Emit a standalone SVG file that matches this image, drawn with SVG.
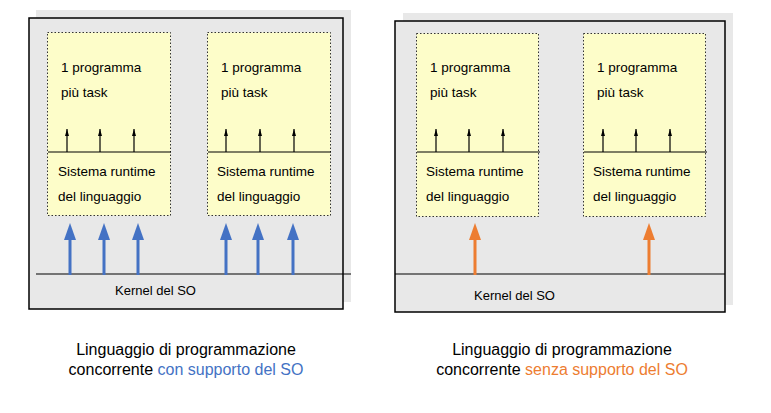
<svg xmlns="http://www.w3.org/2000/svg" width="771" height="413" viewBox="0 0 771 413">
<style>
.bg{fill:#e8e8e8}
.outer{fill:none;stroke:#000;stroke-width:1.5}
.box{fill:#fdfdc9;stroke:#333;stroke-width:1;stroke-dasharray:1.5 2}
.ln{stroke:#000;stroke-width:1.2}
.t{font-family:"Liberation Sans",Arial,sans-serif;font-size:13.5px;fill:#000}
.k{font-family:"Liberation Sans",Arial,sans-serif;font-size:13px;fill:#000}
.c{font-family:"Liberation Sans",Arial,sans-serif;font-size:16px;fill:#000;text-anchor:middle}
.blue{stroke:#4472c4;stroke-width:3}
.orange{stroke:#ed7d31;stroke-width:3}
.small{stroke:#000;stroke-width:1.2}
</style>
<defs>
<marker id="hs" viewBox="0 0 7 4" refX="7" refY="2" markerWidth="7" markerHeight="4" orient="auto" markerUnits="userSpaceOnUse"><path d="M0,0 L7,2 L0,4 Z" fill="#000"/></marker>
</defs>
<rect x="0" y="0" width="771" height="413" fill="#fff"/>
<g id="panel-left">
<rect class="bg" x="36" y="10" width="315" height="292"/>
<rect class="bg" x="29" y="18" width="314" height="291"/>
<rect class="outer" x="29" y="18" width="314" height="291"/>
<line class="ln" x1="36" y1="274" x2="351" y2="274"/>
<text class="k" x="115" y="295">Kernel del SO</text>
</g>
<g id="box-l1">
<rect class="box" x="47.5" y="32.5" width="123" height="183"/>
<line class="ln" x1="48" y1="152" x2="171" y2="152"/>
<text class="t" x="61" y="72">1 programma</text>
<text class="t" x="61" y="97">più task</text>
<text class="t" x="58" y="176">Sistema runtime</text>
<text class="t" x="58" y="201">del linguaggio</text>
</g>
<g id="box-l2">
<rect class="box" x="207.5" y="32.5" width="123" height="183"/>
<line class="ln" x1="208" y1="152" x2="331" y2="152"/>
<text class="t" x="221" y="72">1 programma</text>
<text class="t" x="221" y="97">più task</text>
<text class="t" x="217" y="176">Sistema runtime</text>
<text class="t" x="217" y="201">del linguaggio</text>
</g>
<g id="panel-right">
<rect class="bg" x="403" y="13" width="330" height="292"/>
<rect class="bg" x="395" y="21" width="330" height="291"/>
<rect class="outer" x="395" y="21" width="330" height="291"/>
<line class="ln" x1="395" y1="274" x2="725" y2="274"/>
<text class="k" x="474" y="300">Kernel del SO</text>
</g>
<g id="box-r1">
<rect class="box" x="416.5" y="33.5" width="122" height="183"/>
<line class="ln" x1="417" y1="152" x2="540" y2="152"/>
<text class="t" x="430" y="72">1 programma</text>
<text class="t" x="430" y="97">più task</text>
<text class="t" x="426" y="176">Sistema runtime</text>
<text class="t" x="426" y="201">del linguaggio</text>
</g>
<g id="box-r2">
<rect class="box" x="583.5" y="33.5" width="122" height="183"/>
<line class="ln" x1="584" y1="152" x2="707" y2="152"/>
<text class="t" x="597" y="72">1 programma</text>
<text class="t" x="597" y="97">più task</text>
<text class="t" x="593" y="176">Sistema runtime</text>
<text class="t" x="593" y="201">del linguaggio</text>
</g>
<g id="connectors">
<g class="small">
<line x1="67" y1="152" x2="67" y2="129" marker-end="url(#hs)"/>
<line x1="100" y1="152" x2="100" y2="129" marker-end="url(#hs)"/>
<line x1="134" y1="152" x2="134" y2="129" marker-end="url(#hs)"/>
<line x1="226" y1="152" x2="226" y2="129" marker-end="url(#hs)"/>
<line x1="260" y1="152" x2="260" y2="129" marker-end="url(#hs)"/>
<line x1="294" y1="152" x2="294" y2="129" marker-end="url(#hs)"/>
<line x1="436" y1="152" x2="436" y2="129" marker-end="url(#hs)"/>
<line x1="469" y1="152" x2="469" y2="129" marker-end="url(#hs)"/>
<line x1="503" y1="152" x2="503" y2="129" marker-end="url(#hs)"/>
<line x1="603" y1="152" x2="603" y2="129" marker-end="url(#hs)"/>
<line x1="636" y1="152" x2="636" y2="129" marker-end="url(#hs)"/>
<line x1="670" y1="152" x2="670" y2="129" marker-end="url(#hs)"/>
</g>
<g fill="#4472c4">
<line class="blue" x1="70" y1="275" x2="70" y2="236"/><path d="M64,240 L70,223 L76,240 Z"/>
<line class="blue" x1="104" y1="275" x2="104" y2="236"/><path d="M98,240 L104,223 L110,240 Z"/>
<line class="blue" x1="138" y1="275" x2="138" y2="236"/><path d="M132,240 L138,223 L144,240 Z"/>
<line class="blue" x1="226" y1="275" x2="226" y2="236"/><path d="M220,240 L226,223 L232,240 Z"/>
<line class="blue" x1="258" y1="275" x2="258" y2="236"/><path d="M252,240 L258,223 L264,240 Z"/>
<line class="blue" x1="293" y1="275" x2="293" y2="236"/><path d="M287,240 L293,223 L299,240 Z"/>
</g>
<g fill="#ed7d31">
<line class="orange" x1="475" y1="275" x2="475" y2="236"/><path d="M469,240 L475,223 L481,240 Z"/>
<line class="orange" x1="649" y1="275" x2="649" y2="236"/><path d="M643,240 L649,223 L655,240 Z"/>
</g>
</g>
<g id="captions">
<text class="c" x="186" y="355">Linguaggio di programmazione</text>
<text class="c" x="186" y="375">concorrente <tspan fill="#4472c4">con supporto del SO</tspan></text>
<text class="c" x="562" y="355">Linguaggio di programmazione</text>
<text class="c" x="562" y="375">concorrente <tspan fill="#ed7d31">senza supporto del SO</tspan></text>
</g>
</svg>
